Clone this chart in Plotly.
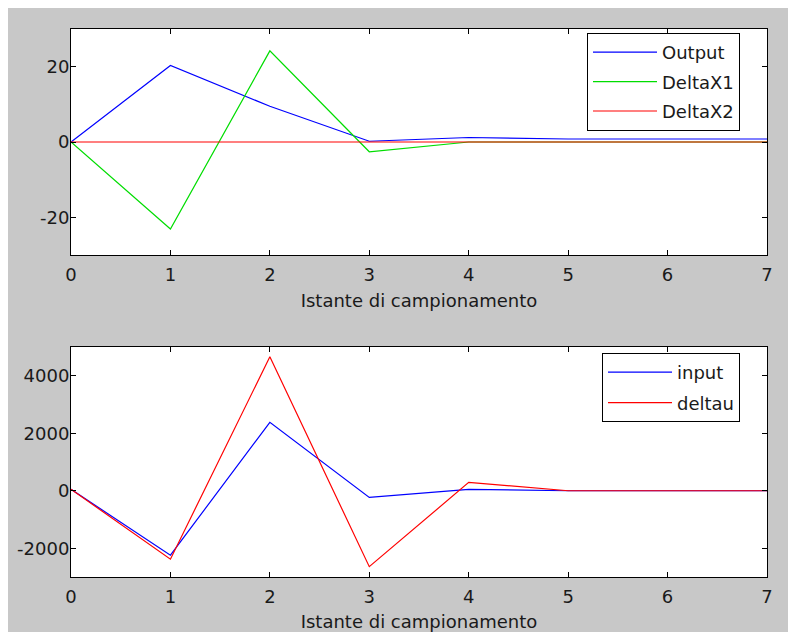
import plotly.graph_objects as go

# Sampling instants
samples = [0, 1, 2, 3, 4, 5, 6, 7]

# Upper panel: state deviations and output
output = [0, 20.3, 9.5, 0.2, 1.2, 0.8, 0.8, 0.8]
delta_x1 = [0, -23.1, 24.2, -2.6, 0, 0, 0, 0]
delta_x2 = [0, 0, 0, 0, 0, 0, 0, 0]

# Lower panel: control input and its increment
input_u = [50, -2240, 2380, -230, 50, 0, 0, 0]
delta_u = [50, -2380, 4660, -2640, 290, 0, 0, 0]

x_ticks = [0, 1, 2, 3, 4, 5, 6, 7]
top_y_ticks = [-20, 0, 20]
top_y_labels = ["-20", "0", "20"]
bottom_y_ticks = [-2000, 0, 2000, 4000]
bottom_y_labels = ["-2000", "0", "2000", "4000"]

x_title = "Istante di campionamento"

FONT = "DejaVu Sans"
TXT = "#1a1a1a"
BLUE, GREEN, RED = "#0000ff", "#00dd00", "#ff0000"
LW = 1.2

fig = go.Figure()

fig.add_trace(go.Scatter(x=samples, y=output, name="Output", mode="lines",
                         line=dict(color=BLUE, width=LW), xaxis="x", yaxis="y",
                         legend="legend", legendgroup="a"))
fig.add_trace(go.Scatter(x=samples, y=delta_x1, name="DeltaX1", mode="lines",
                         line=dict(color=GREEN, width=LW), xaxis="x", yaxis="y",
                         legend="legend", legendgroup="b"))
fig.add_trace(go.Scatter(x=samples, y=delta_x2, name="DeltaX2", mode="lines",
                         line=dict(color=RED, width=LW), xaxis="x", yaxis="y",
                         legend="legend", legendgroup="c"))

fig.add_trace(go.Scatter(x=samples, y=input_u, name="input", mode="lines",
                         line=dict(color=BLUE, width=LW), xaxis="x2", yaxis="y2",
                         legend="legend2", legendgroup="d"))
fig.add_trace(go.Scatter(x=samples, y=delta_u, name="deltau", mode="lines",
                         line=dict(color=RED, width=LW), xaxis="x2", yaxis="y2",
                         legend="legend2", legendgroup="e"))

axis_common = dict(
    showline=True, linecolor="black", linewidth=1, mirror="ticks",
    ticks="inside", ticklen=5, tickcolor="black", tickwidth=1,
    showgrid=False, zeroline=False, automargin=False,
    tickfont=dict(family=FONT, size=18, color=TXT),
)
x_common = dict(axis_common, range=[0, 7], tickvals=x_ticks, ticklabelstandoff=3,
                title=dict(text=x_title, standoff=10, font=dict(size=18, color=TXT)))
y_common = dict(axis_common, ticklabelstandoff=-3)

ML, MR, MT, MB = 71, 21, 29, 55
W, H = 788, 632
PW, PH = W - ML - MR, H - MT - MB


def px_to_paper_x(px):
    return (px - ML) / PW


def px_to_paper_y(py):
    return (H - MB - py) / PH


legend_common = dict(xanchor="left", yanchor="top", bgcolor="white",
                     bordercolor="black", borderwidth=1,
                     font=dict(family=FONT, size=18, color=TXT), itemwidth=64)

fig.update_layout(
    width=W, height=H,
    margin=dict(l=ML, r=MR, t=MT, b=MB, autoexpand=False),
    paper_bgcolor="#c8c8c8",
    plot_bgcolor="white",
    font=dict(family=FONT, size=18, color=TXT),
    xaxis=dict(x_common, anchor="y"),
    yaxis=dict(y_common, range=[-30, 30], tickvals=top_y_ticks, ticktext=top_y_labels,
               anchor="x", domain=[px_to_paper_y(255), 1]),
    xaxis2=dict(x_common, anchor="y2"),
    yaxis2=dict(y_common, range=[-3000, 5000], tickvals=bottom_y_ticks,
                ticktext=bottom_y_labels, anchor="x2", domain=[0, px_to_paper_y(347)]),
    legend=dict(legend_common, x=px_to_paper_x(587), y=px_to_paper_y(33), tracegroupgap=3),
    legend2=dict(legend_common, x=px_to_paper_x(602), y=px_to_paper_y(353), tracegroupgap=4),
    showlegend=True,
    shapes=[
        # thin white border along the top and left edges of the figure
        dict(type="rect", xref="paper", yref="paper", layer="below",
             x0=px_to_paper_x(0), x1=px_to_paper_x(W), y0=px_to_paper_y(8), y1=px_to_paper_y(0),
             fillcolor="white", line=dict(width=0)),
        dict(type="rect", xref="paper", yref="paper", layer="below",
             x0=px_to_paper_x(0), x1=px_to_paper_x(8), y0=px_to_paper_y(H), y1=px_to_paper_y(0),
             fillcolor="white", line=dict(width=0)),
    ],
)

fig.write_html("out.html")
